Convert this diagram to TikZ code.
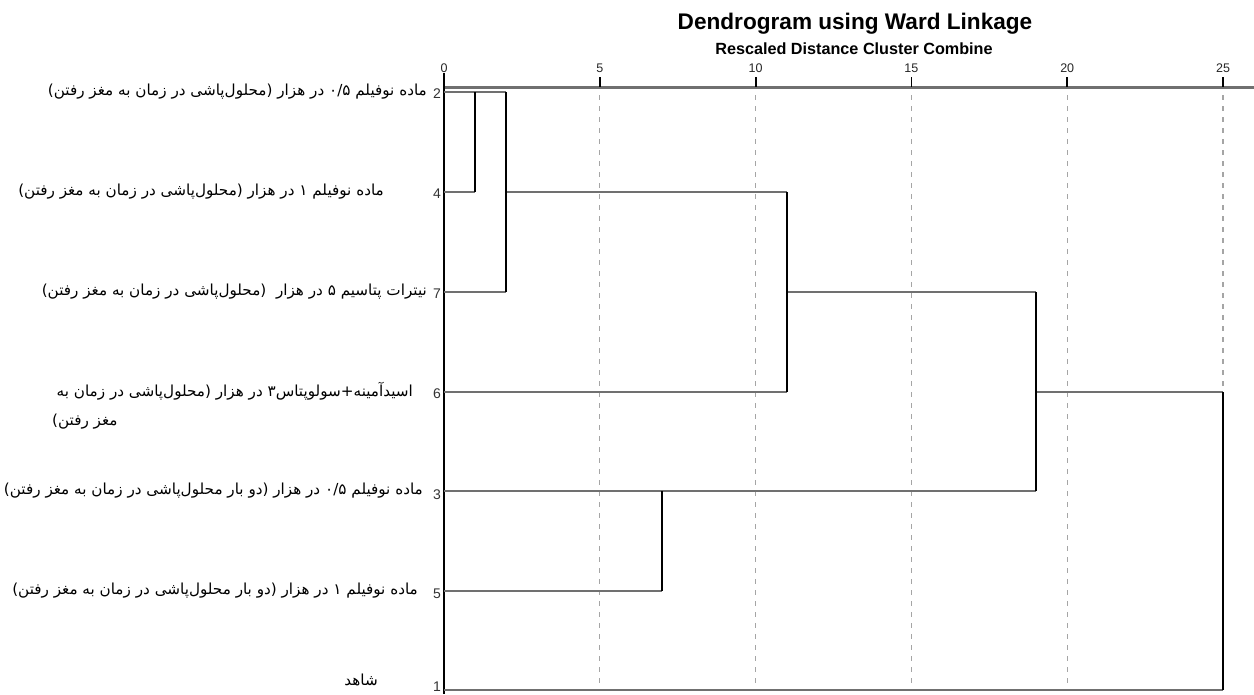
\documentclass[tikz,border=0pt]{standalone}
\usepackage{fontspec}
\setmainfont{Liberation Sans}
\newfontfamily\fa[Script=Arabic]{DejaVu Sans}
\TeXXeTstate=1
\definecolor{hgray}{RGB}{112,112,112}
\definecolor{dgray}{RGB}{165,165,165}
\tikzset{
  hline/.style={draw=hgray, line width=2pt},
  vline/.style={draw=black, line width=1.8pt},
  guide/.style={draw=dgray, line width=1.3pt, dash pattern=on 5pt off 6pt},
  tickmark/.style={draw=black, line width=1.8pt},
  ticklab/.style={font=\fontsize{12.5}{14}\selectfont, text=black!85, inner sep=0pt},
  leafnum/.style={font=\fontsize{14}{15}\selectfont, text=black!80, inner sep=0pt, anchor=east},
  leaflab/.style={font=\fa\fontsize{15.2}{18}\selectfont, inner sep=0pt},
}
\begin{document}
\begin{tikzpicture}[x=1pt, y=-1pt]
\useasboundingbox (0,0) rectangle (1254,694);
\fill[white] (0,0) rectangle (1254,694);

% titles
\node[font=\bfseries\fontsize{22.6}{26}\selectfont] (title) at (855,24) {Dendrogram using Ward Linkage};
\node[font=\bfseries\fontsize{16.2}{18}\selectfont] (subtitle) at (854,49) {Rescaled Distance Cluster Combine};

% distance axis: 31.16 px per unit, origin at x=444
\coordinate (ax0) at (444,87);
\coordinate (axE) at (1254,87);
\foreach \d/\nm in {0/k0,5/k5,10/k10,15/k15,20/k20,25/k25} {
  \node[ticklab] (\nm) at ({444+31.16*\d},68) {\d};
}
% dashed guides
\foreach \d in {5,10,15,20,25} {
  \coordinate (gt\d) at ({444+31.16*\d},95);
  \coordinate (gb\d) at ({444+31.16*\d},690);
  \draw[guide] (gt\d) -- (gb\d);
}
\draw[draw=hgray, line width=3pt] (ax0) -- (axE);
\foreach \d in {5,10,15,20,25} {
  \coordinate (tt\d) at ({444+31.16*\d},77);
  \coordinate (tb\d) at ({444+31.16*\d},87);
  \draw[tickmark] (tt\d) -- (tb\d);
}
% left border (zero line)
\coordinate (z0) at (444,73);
\coordinate (z1) at (444,694);
\draw[draw=black, line width=2.4pt] (z0) -- (z1);

% leaf rows
\coordinate (L2) at (444,92);
\coordinate (L4) at (444,192);
\coordinate (L7) at (444,292);
\coordinate (L6) at (444,392);
\coordinate (L3) at (444,491);
\coordinate (L5) at (444,591);
\coordinate (L1) at (444,690);

% merge points
\coordinate (a2) at (475.2,92);   \coordinate (a4) at (475.2,192);
\coordinate (b2) at (506.3,92);   \coordinate (b4) at (506.3,192);  \coordinate (b7) at (506.3,292);
\coordinate (c4) at (786.8,192);  \coordinate (c7) at (786.8,292);  \coordinate (c6) at (786.8,392);
\coordinate (d3) at (662.1,491);  \coordinate (d5) at (662.1,591);
\coordinate (e7) at (1036,292);   \coordinate (e6) at (1036,392);   \coordinate (e3) at (1036,491);
\coordinate (f6) at (1223,392);   \coordinate (f1) at (1223,690);

% horizontal branches
\draw[hline] (L2) -- (b2);
\draw[hline] (L4) -- (a4);
\draw[hline] (b4) -- (c4);
\draw[hline] (L7) -- (b7);
\draw[hline] (c7) -- (e7);
\draw[hline] (L6) -- (c6);
\draw[hline] (e6) -- (f6);
\draw[hline] (L3) -- (e3);
\draw[hline] (L5) -- (d5);
\draw[hline] (L1) -- (f1);
% vertical joins
\draw[vline] (a2) -- (a4);
\draw[vline] (b2) -- (b7);
\draw[vline] (c4) -- (c6);
\draw[vline] (d3) -- (d5);
\draw[vline] (e7) -- (e3);
\draw[vline] (f6) -- (f1);

% case numbers
\node[leafnum] (n2) at (441,94) {2};
\node[leafnum] (n4) at (441,194) {4};
\node[leafnum] (n7) at (441,294) {7};
\node[leafnum] (n6) at (441,394) {6};
\node[leafnum] (n3) at (441,495) {3};
\node[leafnum] (n5) at (441,594) {5};
\node[leafnum] (n1) at (441,687) {1};

% treatment labels
\node[leaflab, anchor=east] (t2) at (427,92) {\beginR ماده نوفیلم \beginL ۰/۵\endL{} در هزار (محلول‌پاشی در زمان به مغز رفتن)\endR};
\node[leaflab, anchor=east] (t4) at (384,192) {\beginR ماده نوفیلم ۱ در هزار (محلول‌پاشی در زمان به مغز رفتن)\endR};
\node[leaflab, anchor=east] (t7) at (427,292) {\beginR نیترات پتاسیم ۵ در هزار \ (محلول‌پاشی در زمان به مغز رفتن)\endR};
\node[leaflab, anchor=east] (t6a) at (413,391) {\beginR اسیدآمینه+سولوپتاس۳ در هزار (محلول‌پاشی در زمان به\endR};
\node[leaflab, anchor=west] (t6b) at (52,422) {\beginR مغز رفتن)\endR};
\node[leaflab, anchor=east] (t3) at (423,491) {\beginR ماده نوفیلم \beginL ۰/۵\endL{} در هزار (دو بار محلول‌پاشی در زمان به مغز رفتن)\endR};
\node[leaflab, anchor=east] (t5) at (418,591) {\beginR ماده نوفیلم ۱ در هزار (دو بار محلول‌پاشی در زمان به مغز رفتن)\endR};
\node[leaflab, anchor=east] (t1) at (378,680) {\beginR شاهد\endR};
\end{tikzpicture}
\end{document}
